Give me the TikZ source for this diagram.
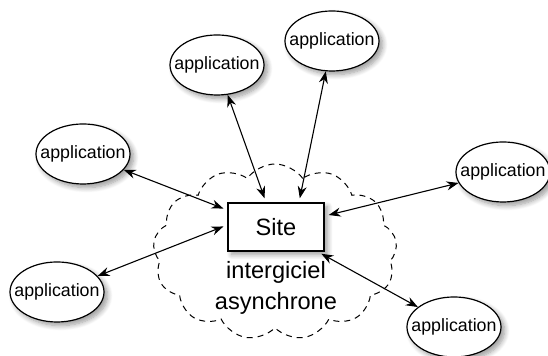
\documentclass[tikz,border=0pt]{standalone}
\usepackage{fontspec}
\setmainfont{Liberation Sans}
\usetikzlibrary{arrows.meta,shapes.geometric,shapes.symbols,shadows.blur}

\newcommand{\appl}{\makebox[0pt]{application}}

\tikzset{
  appnode/.style={ellipse, draw, fill=white, line width=0.6pt, inner sep=0pt,
    minimum width=47pt, minimum height=30pt, font=\fontsize{8.9}{10}\selectfont,
    blur shadow={shadow xshift=1.8pt, shadow yshift=-1.8pt, shadow blur radius=2.5pt,
      shadow blur steps=8}},
  sitebox/.style={rectangle, draw, fill=white, line width=0.8pt, inner sep=0pt,
    minimum width=48pt, minimum height=24pt, font=\fontsize{11.8}{14}\selectfont,
    blur shadow={shadow xshift=1.8pt, shadow yshift=-1.8pt, shadow blur radius=2.5pt,
      shadow blur steps=8}},
  link/.style={{Stealth[length=6pt,width=4.5pt]}-{Stealth[length=6pt,width=4.5pt]},
    line width=0.55pt, shorten >=2pt}
}

\begin{document}
\begin{tikzpicture}[x=0.5pt, y=-0.5pt]
\useasboundingbox (0,0) rectangle (548,356);
% nuage
\node[cloud, cloud puffs=13, cloud puff arc=110, cloud ignores aspect, draw,
  dash pattern=on 3pt off 2.5pt, line width=0.5pt,
  minimum width=122pt, minimum height=88pt] (cloud) at (275,252) {};
\node[sitebox] (site) at (276,227) {Site};
\node[font=\fontsize{11.8}{15.5}\selectfont, align=center] (mw) at (276,288)
  {intergiciel\\asynchrone};
\foreach \n/\x/\y in {1/217/65, 2/332/41, 3/83/154, 4/57/292, 5/503/172, 6/454/327}
  \node[appnode] (app\n) at (\x,\y) {\appl};
\coordinate (in1) at ([xshift=-5pt]site.north);
\coordinate (in2) at ([xshift=11.5pt]site.north);
\coordinate (in3) at ([yshift=8.5pt]site.west);
\coordinate (in4) at ([yshift=1pt]site.west);
\coordinate (in5) at ([yshift=5.5pt]site.east);
\coordinate (in6) at ([xshift=-3.5pt]site.south east);
\foreach \n in {1,...,6}
  \draw[link] (app\n) -- (in\n);
\end{tikzpicture}
\end{document}
